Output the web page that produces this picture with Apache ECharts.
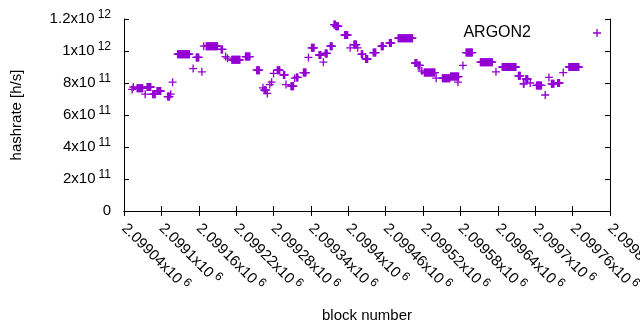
<!DOCTYPE html>
<html>
<head>
<meta charset="utf-8">
<script src="https://cdn.jsdelivr.net/npm/echarts@6/dist/echarts.min.js"></script>
<style>
  html, body { margin: 0; padding: 0; background: #fff; }
  #chart { width: 640px; height: 330px; }
</style>
</head>
<body>
<div id="chart"></div>
<script>
// runs of blocks that share one hashrate value
const runStart = [2099053, 2099055, 2099061, 2099074, 2099077, 2099086, 2099088, 2099093, 2099110, 2099115,
  2099118, 2099126, 2099151, 2099156, 2099165, 2099168, 2099172, 2099196, 2099203, 2099206,
  2099213, 2099235, 2099253, 2099263, 2099265, 2099270, 2099274, 2099277, 2099280, 2099286,
  2099296, 2099300, 2099308, 2099314, 2099317, 2099328, 2099336, 2099341, 2099353, 2099360,
  2099363, 2099371, 2099377, 2099380, 2099394, 2099403, 2099409, 2099415, 2099421, 2099428,
  2099440, 2099453, 2099466, 2099480, 2099507, 2099512, 2099518, 2099522, 2099541, 2099551,
  2099564, 2099576, 2099584, 2099589, 2099612, 2099637, 2099647, 2099673, 2099681, 2099685,
  2099692, 2099702, 2099716, 2099722, 2099726, 2099736, 2099745, 2099754];
const runEnd = [2099053, 2099055, 2099070, 2099074, 2099083, 2099086, 2099090, 2099099, 2099113, 2099115,
  2099118, 2099145, 2099151, 2099160, 2099165, 2099168, 2099190, 2099198, 2099203, 2099206,
  2099226, 2099242, 2099257, 2099263, 2099268, 2099270, 2099274, 2099277, 2099280, 2099290,
  2099298, 2099300, 2099312, 2099314, 2099319, 2099332, 2099336, 2099345, 2099356, 2099360,
  2099366, 2099374, 2099379, 2099384, 2099399, 2099403, 2099413, 2099415, 2099423, 2099431,
  2099444, 2099456, 2099469, 2099503, 2099510, 2099515, 2099518, 2099539, 2099541, 2099563,
  2099577, 2099576, 2099584, 2099599, 2099631, 2099637, 2099669, 2099676, 2099682, 2099688,
  2099692, 2099710, 2099716, 2099722, 2099730, 2099739, 2099745, 2099770];
const runValue = [7.6e11, 7.75e11, 7.67e11, 7.3e11, 7.75e11, 7.3e11, 7.3e11, 7.5e11, 7.15e11, 7.3e11,
  8.05e11, 9.8e11, 8.9e11, 9.6e11, 8.7e11, 1.03e12, 1.03e12, 1.01e12, 9.65e11, 9.55e11,
  9.45e11, 9.65e11, 8.8e11, 7.7e11, 7.55e11, 7.35e11, 7.9e11, 8.05e11, 8.6e11, 8.8e11,
  8.5e11, 7.9e11, 7.8e11, 8.3e11, 8.35e11, 8.65e11, 9.6e11, 1.02e12, 9.75e11, 9.3e11,
  9.85e11, 1.03e12, 1.165e12, 1.155e12, 1.1e12, 1.02e12, 1.04e12, 1.02e12, 9.8e11, 9.5e11,
  9.9e11, 1.03e12, 1.05e12, 1.08e12, 9.25e11, 9.1e11, 8.75e11, 8.65e11, 8.3e11, 8.3e11,
  8.4e11, 8.05e11, 9.1e11, 9.9e11, 9.3e11, 8.7e11, 9.0e11, 8.45e11, 7.95e11, 8.25e11,
  8.0e11, 7.85e11, 7.25e11, 8.35e11, 7.95e11, 8.0e11, 8.65e11, 9.0e11];

const xMin = 2099040, xMax = 2099820, xStep = 60;
const yMin = 0, yMax = 1.2e12, yStep = 2e11;

const points = [];
for (let i = 0; i < runStart.length; i++) {
  for (let b = runStart[i]; b <= runEnd[i]; b++) {
    points.push([b, runValue[i]]);
  }
}

const plus = "path://M3.5,0h1.4v3.5h3.5v1.4h-3.5v3.5h-1.4v-3.5h-3.5v-1.4h3.5z";
const font = "Liberation Sans";

// "1.2x10^12" style labels
function sci(v) {
  if (v === 0) return "{m|0}";
  const e = Math.floor(Math.log10(v) + 1e-9);
  const m = parseFloat((v / Math.pow(10, e)).toPrecision(6));
  return "{m|" + m + "x10}{s|" + e + "}";
}

const rich = {
  m: { fontFamily: font, fontSize: 15, color: "#000" },
  s: { fontFamily: font, fontSize: 12, color: "#000", padding: [0, 0, 9, 3] }
};

const chart = echarts.init(document.getElementById("chart"));

const option = {
  animation: false,
  grid: { left: 124, right: 30, top: 19, bottom: 119, outerBoundsMode: "none", containLabel: false },
  legend: {
    right: 34,
    top: 20,
    align: "right",
    icon: plus,
    itemWidth: 8,
    itemHeight: 8,
    textStyle: { fontFamily: font, fontSize: 16, color: "#000", padding: [0, 57, 0, 0] },
    data: ["ARGON2"]
  },
  xAxis: [
    {
      type: "value",
      min: xMin,
      max: xMax,
      interval: xStep,
      name: "block number",
      nameLocation: "middle",
      nameGap: 97,
      nameTextStyle: { fontFamily: font, fontSize: 15, color: "#000" },
      axisLine: { lineStyle: { color: "#000", width: 1 } },
      axisTick: { inside: true, length: 5, lineStyle: { color: "#000" } },
      splitLine: { show: false },
      axisLabel: {
        rotate: -45,
        margin: 15,
        formatter: v => sci(v),
        rich: rich
      }
    },
    {
      type: "value",
      position: "top",
      min: xMin,
      max: xMax,
      interval: xStep,
      axisLine: { lineStyle: { color: "#000", width: 1 } },
      axisTick: { inside: true, length: 5, lineStyle: { color: "#000" } },
      axisLabel: { show: false },
      splitLine: { show: false }
    }
  ],
  yAxis: [
    {
      type: "value",
      min: yMin,
      max: yMax,
      interval: yStep,
      name: "hashrate [h/s]",
      nameLocation: "middle",
      nameGap: 100,
      nameTextStyle: { fontFamily: font, fontSize: 15, color: "#000" },
      axisLine: { show: true, lineStyle: { color: "#000", width: 1 } },
      axisTick: { show: true, inside: true, length: 5, lineStyle: { color: "#000" } },
      splitLine: { show: false },
      axisLabel: {
        margin: 13,
        formatter: v => sci(v),
        rich: rich
      }
    },
    {
      type: "value",
      position: "right",
      min: yMin,
      max: yMax,
      interval: yStep,
      axisLine: { show: true, lineStyle: { color: "#000", width: 1 } },
      axisTick: { show: true, inside: true, length: 5, lineStyle: { color: "#000" } },
      axisLabel: { show: false },
      splitLine: { show: false }
    }
  ],
  series: [
    {
      name: "ARGON2",
      type: "scatter",
      symbol: plus,
      symbolSize: 8,
      itemStyle: { color: "#9400d3", opacity: 1 },
      data: points
    }
  ]
};

chart.setOption(option);
</script>
</body>
</html>
